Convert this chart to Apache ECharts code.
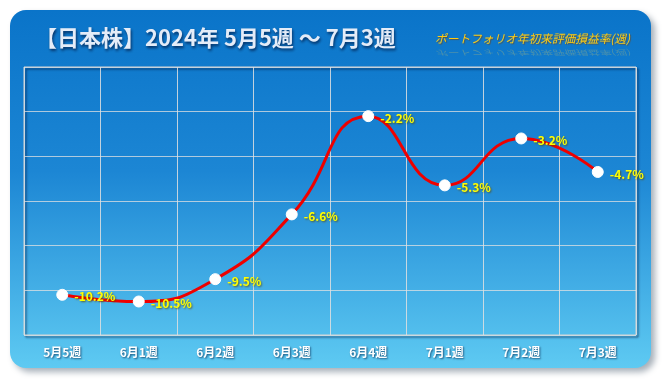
<!DOCTYPE html>
<html><head><meta charset="utf-8">
<script src="https://cdn.jsdelivr.net/npm/echarts@6/dist/echarts.min.js"></script>
<style>html,body{margin:0;padding:0;background:#fff;}#c{width:666px;height:384px;}</style>
</head><body><div id="c"></div>
<script>
var categories = ['5月5週','6月1週','6月2週','6月3週','6月4週','7月1週','7月2週','7月3週'];
var values = [-10.2, -10.5, -9.5, -6.6, -2.2, -5.3, -3.2, -4.7];
var titleText = '【日本株】2024年 5月5週 ～ 7月3週';
var subTitleText = 'ポートフォリオ年初来評価損益率(週)';
var yMin = -12, yMax = 0, yInterval = 2;

var chart = echarts.init(document.getElementById('c'), null, {renderer:'canvas'});
var font = '"Noto Sans CJK JP", "Noto Sans", sans-serif';
chart.setOption({
  backgroundColor: '#ffffff',
  animation: false,
  graphic: [
    {type:'rect', z:-10, shape:{x:10,y:10,width:641,height:358,r:16},
     style:{fill:{type:'linear',x:0,y:0,x2:0,y2:1,colorStops:[{offset:0,color:'#0a74c9'},{offset:0.45,color:'#1c86d4'},{offset:1,color:'#5ecaf2'}]},
       shadowColor:'rgba(60,80,100,0.45)', shadowBlur:6, shadowOffsetX:4, shadowOffsetY:4}},
    {type:'text', x:35, y:27, z:10,
     style:{text:titleText, fill:'#e4ecf8', font:'bold 22px '+font,
       textShadowColor:'rgba(0,20,60,0.75)', textShadowBlur:3, textShadowOffsetX:1, textShadowOffsetY:2}},
    {type:'text', x:435, y:33, z:10,
     style:{text:subTitleText, fill:'#ffcc11', font:'italic 11.7px '+font,
       textShadowColor:'rgba(120,60,0,0.6)', textShadowBlur:1, textShadowOffsetX:1, textShadowOffsetY:1}},
    {type:'text', x:435, y:56, scaleY:-0.6, z:9,
     style:{text:subTitleText, fill:'rgba(255,220,80,0.25)', font:'italic 11.7px '+font}}
  ],
  grid: {left:24, right:30, top:67, bottom:49, show:true, borderColor:'#d6d6d6', borderWidth:1,
    shadowColor:'rgba(0,20,60,0.8)', shadowBlur:2, shadowOffsetX:2, shadowOffsetY:2},
  xAxis: {type:'category', data:categories, boundaryGap:true,
    axisLine:{show:false}, axisTick:{show:false},
    splitLine:{show:true, lineStyle:{color:'rgba(225,225,225,0.85)', width:1}},
    axisLabel:{color:'#ffffff', fontWeight:'bold', fontSize:12, fontFamily:font, margin:11,
      textShadowColor:'rgba(0,30,70,0.7)', textShadowBlur:2, textShadowOffsetX:1, textShadowOffsetY:1}},
  yAxis: {type:'value', min:yMin, max:yMax, interval:yInterval,
    axisLine:{show:false}, axisTick:{show:false}, axisLabel:{show:false},
    splitLine:{show:true, lineStyle:{color:'rgba(225,225,225,0.75)', width:1}}},
  series: [{
    type:'line', data:values, smooth:0.5, symbol:'circle', symbolSize:11,
    lineStyle:{color:'#ee0000', width:3},
    itemStyle:{color:'#ffffff', borderColor:'#ffffff'},
    label:{show:true, position:'right', distance:6, offset:[0,2], color:'#ffff00', fontWeight:'bold', fontSize:12, fontFamily:font,
      formatter:function(p){return p.value.toFixed(1)+'%';},
      textShadowColor:'rgba(90,70,0,0.8)', textShadowBlur:2, textShadowOffsetX:1, textShadowOffsetY:1}
  }]
});
</script></body></html>
